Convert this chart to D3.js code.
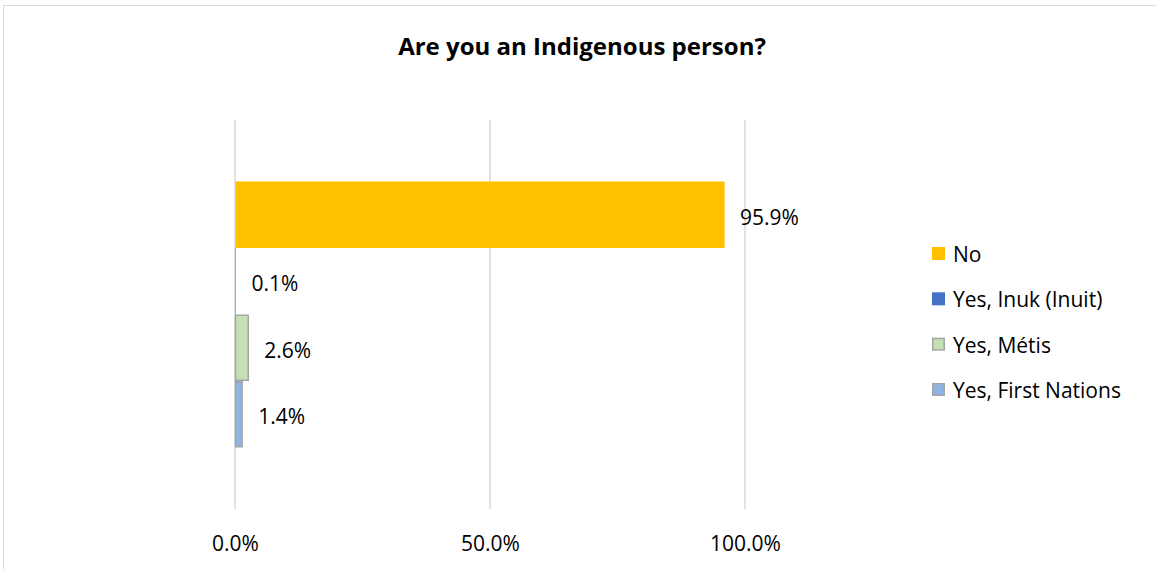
<!DOCTYPE html>
<html>
<head>
<meta charset="utf-8">
<script src="https://cdn.jsdelivr.net/npm/d3@7"></script>
<style>
  html, body { margin: 0; padding: 0; background: #fff; }
  svg { display: block; font-family: "Open Sans", "Noto Sans", sans-serif; }
</style>
</head>
<body>
<svg id="chart" width="1156" height="569"></svg>
<script>
// Survey responses: share of respondents per answer
const title = "Are you an Indigenous person?";
const seriesNames = ["No", "Yes, Inuk (Inuit)", "Yes, Métis", "Yes, First Nations"];
const seriesValues = [0.959, 0.001, 0.026, 0.014];
const seriesColors = ["#FFC000", "#4472C4", "#C5E0B4", "#8FB4E2"];
const seriesStrokes = [null, null, "#A5A5A5", "#A5A5A5"];
const tickValues = [0, 0.5, 1.0];

const svg = d3.select("#chart");
const W = 1156, H = 569;

// Chart area outline
svg.append("rect")
  .attr("x", 3.5).attr("y", 5.5)
  .attr("width", W + 10).attr("height", H + 10)
  .attr("fill", "#fff").attr("stroke", "#d9d9d9").attr("stroke-width", 1);

const plot = { left: 235, right: 745, top: 120, bottom: 509 };

const x = d3.scaleLinear().domain([0, 1]).range([plot.left, plot.right]);
const y = d3.scaleBand()
  .domain(seriesNames)
  .range([plot.top, plot.bottom])
  .paddingInner(0)
  .paddingOuter(0.925);

// Title
svg.append("text")
  .attr("x", 582).attr("y", 45)
  .attr("text-anchor", "middle")
  .attr("dominant-baseline", "central")
  .attr("font-size", 24)
  .attr("font-weight", "bold")
  .attr("fill", "#000")
  .text(title);

// Vertical gridlines
svg.append("g")
  .selectAll("line")
  .data(tickValues)
  .join("line")
  .attr("x1", d => x(d)).attr("x2", d => x(d))
  .attr("y1", plot.top).attr("y2", plot.bottom)
  .attr("stroke", "#d9d9d9").attr("stroke-width", 1.5);

// Axis tick labels
const fmt = d3.format(".1%");
const xAxis = d3.axisBottom(x).tickValues(tickValues).tickFormat(fmt).tickSize(0).tickPadding(0);
const axisG = svg.append("g").attr("transform", `translate(0,${plot.bottom})`).call(xAxis);
axisG.select(".domain").remove();
axisG.selectAll("text")
  .attr("y", 34)
  .attr("dy", null)
  .attr("dominant-baseline", "central")
  .attr("font-family", "\"Open Sans\", sans-serif")
  .attr("font-size", 21)
  .attr("fill", "#000");

// Bars
const data = seriesNames.map((name, i) => ({
  name, value: seriesValues[i], color: seriesColors[i], stroke: seriesStrokes[i]
}));

svg.append("g")
  .selectAll("rect")
  .data(data)
  .join("rect")
  .attr("x", x(0) + 0.5)
  .attr("y", d => y(d.name) + (d.stroke ? 0.75 : 0))
  .attr("width", d => Math.max(0, x(d.value) - x(0) - (d.stroke ? 0.5 : 0)))
  .attr("height", d => y.bandwidth() - (d.stroke ? 1.5 : 0))
  .attr("fill", d => d.color)
  .attr("stroke", d => d.stroke || "none")
  .attr("stroke-width", 1.5);

// Data labels
svg.append("g")
  .selectAll("text")
  .data(data)
  .join("text")
  .attr("x", d => x(d.value) + 16)
  .attr("y", d => y(d.name) + y.bandwidth() / 2 + 2)
  .attr("dominant-baseline", "central")
  .attr("font-size", 21)
  .attr("fill", "#000")
  .text(d => fmt(d.value));

// Legend
const legend = svg.append("g");
const rowY = d3.scalePoint().domain(seriesNames).range([253, 389]);
const items = legend.selectAll("g")
  .data(data)
  .join("g")
  .attr("transform", d => `translate(932,${rowY(d.name)})`);
items.append("rect")
  .attr("x", d => d.stroke ? 0.75 : 0)
  .attr("y", d => d.stroke ? -5.25 : -6)
  .attr("width", d => d.stroke ? 11.5 : 13)
  .attr("height", d => d.stroke ? 11.5 : 13)
  .attr("fill", d => d.color)
  .attr("stroke", d => d.stroke || "none")
  .attr("stroke-width", 1.5);
items.append("text")
  .attr("x", 21)
  .attr("y", 1)
  .attr("dominant-baseline", "central")
  .attr("font-size", 21)
  .attr("fill", "#000")
  .text(d => d.name);
</script>
</body>
</html>
